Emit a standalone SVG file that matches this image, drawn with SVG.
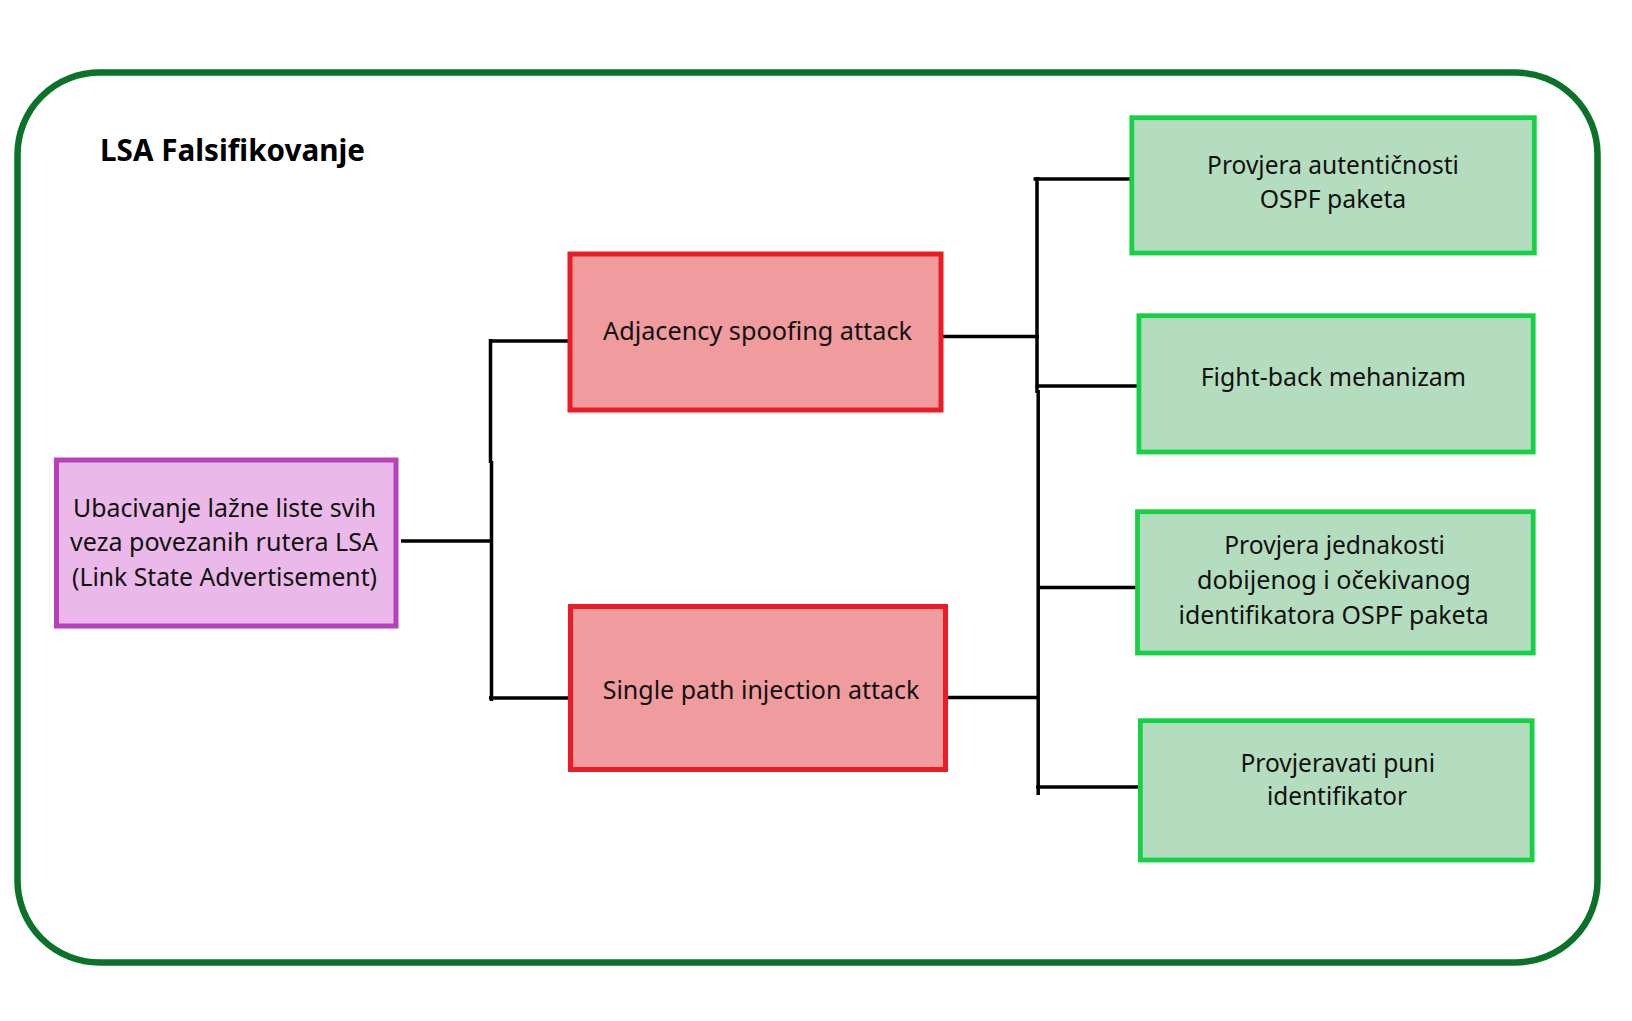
<svg xmlns="http://www.w3.org/2000/svg" width="1632" height="1021" viewBox="0 0 1632 1021">
<style>
.frame{fill:#fff;stroke:#0b7329;stroke-width:6.5}
.t{font-family:"Noto Sans","Open Sans","DejaVu Sans",sans-serif;font-size:25px;fill:#111;text-anchor:middle}
.title{font-family:"Noto Sans","Open Sans","DejaVu Sans",sans-serif;font-size:30px;font-weight:bold;fill:#000}
.purple{fill:#ebb9e9;stroke:#b940bb;stroke-width:5}
.red{fill:#f09b9d;stroke:#ec1c24;stroke-width:5}
.green{fill:#b4ddbf;stroke:#15d245;stroke-width:4.8}
.c{fill:none;stroke:#000;stroke-width:3.5}
</style>
<rect x="0" y="0" width="1632" height="1021" fill="#fff"/>
<rect class="frame" x="17.5" y="72.5" width="1580" height="890" rx="82" ry="82"/>
<text class="title" x="100" y="161" textLength="265" lengthAdjust="spacingAndGlyphs">LSA Falsifikovanje</text>
<g id="connectors">
<path class="c" d="M401,541 H491"/>
<path class="c" d="M490.5,339 V463 M491.5,461 V701"/>
<path class="c" d="M489,341 H572"/>
<path class="c" d="M489,698 H572"/>
<path class="c" d="M942,336.5 H1039"/>
<path class="c" d="M947,697.5 H1039"/>
<path class="c" d="M1037,177 V393 M1038.2,390 V795"/>
<path class="c" d="M1033.5,179 H1132"/>
<path class="c" d="M1035.5,386 H1138"/>
<path class="c" d="M1038,587.5 H1137"/>
<path class="c" d="M1036,787 H1141"/>
</g>
<g id="node-lsa">
<rect class="purple" x="56.5" y="460" width="339.5" height="166"/>
<text class="t" x="224.5" y="517" textLength="303" lengthAdjust="spacingAndGlyphs">Ubacivanje lažne liste svih</text>
<text class="t" x="224" y="551" textLength="308" lengthAdjust="spacingAndGlyphs">veza povezanih rutera LSA</text>
<text class="t" x="224.5" y="585.5" textLength="305" lengthAdjust="spacingAndGlyphs">(Link State Advertisement)</text>
</g>
<g id="node-adjacency">
<rect class="red" x="570" y="254" width="371" height="156"/>
<text class="t" x="757.5" y="339.5" textLength="309" lengthAdjust="spacingAndGlyphs">Adjacency spoofing attack</text>
</g>
<g id="node-single">
<rect class="red" x="570.5" y="606.5" width="375" height="163"/>
<text class="t" x="761" y="698.5" textLength="316.6" lengthAdjust="spacingAndGlyphs">Single path injection attack</text>
</g>
<g id="node-auth">
<rect class="green" x="1131.8" y="117.7" width="402.5" height="135.3"/>
<text class="t" x="1333" y="174" textLength="251.8" lengthAdjust="spacingAndGlyphs">Provjera autentičnosti</text>
<text class="t" x="1333" y="208.3" textLength="146.5" lengthAdjust="spacingAndGlyphs">OSPF paketa</text>
</g>
<g id="node-fightback">
<rect class="green" x="1138.9" y="315.7" width="394.3" height="136.3"/>
<text class="t" x="1333.4" y="385.7" textLength="265.4" lengthAdjust="spacingAndGlyphs">Fight-back mehanizam</text>
</g>
<g id="node-equality">
<rect class="green" x="1137.5" y="511.7" width="395.7" height="141.3"/>
<text class="t" x="1334.6" y="554" textLength="220.7" lengthAdjust="spacingAndGlyphs">Provjera jednakosti</text>
<text class="t" x="1333.9" y="589" textLength="273.6" lengthAdjust="spacingAndGlyphs">dobijenog i očekivanog</text>
<text class="t" x="1333.6" y="624.3" textLength="310" lengthAdjust="spacingAndGlyphs">identifikatora OSPF paketa</text>
</g>
<g id="node-fullid">
<rect class="green" x="1140.4" y="720.7" width="391.7" height="139.3"/>
<text class="t" x="1337.7" y="771.7" textLength="194.6" lengthAdjust="spacingAndGlyphs">Provjeravati puni</text>
<text class="t" x="1337.1" y="805" textLength="140" lengthAdjust="spacingAndGlyphs">identifikator</text>
</g>
</svg>
